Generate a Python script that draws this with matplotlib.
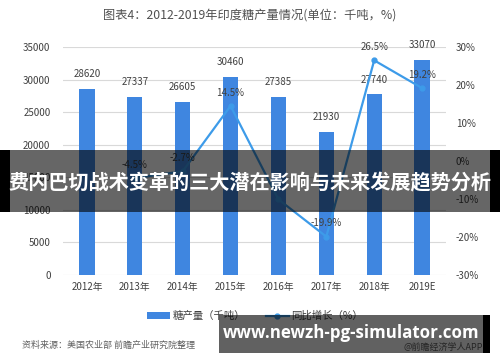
import matplotlib
matplotlib.use("Agg")
import matplotlib.pyplot as plt
from matplotlib.patches import Rectangle
from matplotlib.lines import Line2D
from matplotlib.patches import Patch

plt.rcParams['font.family'] = ['Noto Sans CJK SC', 'DejaVu Sans']

years = ["2012年", "2013年", "2014年", "2015年", "2016年", "2017年", "2018年", "2019E"]
production = [28620, 27337, 26605, 30460, 27385, 21930, 27740, 33070]
growth_years_idx = [1, 2, 3, 4, 5, 6, 7]
growth = [-4.5, -2.7, 14.5, -10.1, -19.9, 26.5, 19.2]
growth_labels = ["-4.5%", "-2.7%", "14.5%", "", "-19.9%", "26.5%", "19.2%"]

title = "图表4：2012-2019年印度糖产量情况(单位：千吨，%)"
banner = "费内巴切战术变革的三大潜在影响与未来发展趋势分析"
footer = "www.newzh-pg-simulator.com"

bar_color = "#3f86e0"
line_color = "#3d9be9"
txt = "#404040"

fig = plt.figure(figsize=(5, 3.62), dpi=100)
ax = fig.add_axes([0.126, 0.2403, 0.766, 0.6297])
x = list(range(len(years)))
ax.bar(x, production, width=0.32, color=bar_color, zorder=2)
ax.set_xlim(-0.5, len(years) - 0.5)
ax.set_ylim(0, 35000)
ax.set_yticks(range(0, 35001, 5000))
ax.set_xticks(x)
ax.set_xticklabels(years, fontsize=7, color=txt)
ax.tick_params(axis='y', length=0, pad=9, labelsize=7, labelcolor=txt)
ax.tick_params(axis='x', length=0, pad=5)
ax.grid(axis='y', color="#d9d9d9", linewidth=0.8, zorder=0)
for s in ax.spines.values():
    s.set_visible(False)
for xi, v in zip(x, production):
    ax.annotate(str(v), (xi, v), xytext=(0, 7), textcoords='offset points',
                ha='center', va='bottom', fontsize=7, color=txt)

ax2 = ax.twinx()
ax2.set_ylim(-30, 30)
ax2.set_yticks(range(-30, 31, 10))
ax2.set_yticklabels([f"{t}%" for t in range(-30, 31, 10)])
ax2.tick_params(axis='y', length=0, pad=7, labelsize=7, labelcolor=txt)
for s in ax2.spines.values():
    s.set_visible(False)
ax2.plot(growth_years_idx, growth, color=line_color, linewidth=1.6,
         marker='o', markersize=3.5, zorder=3)
for xi, v, lab in zip(growth_years_idx, growth, growth_labels):
    if lab:
        ax2.annotate(lab, (xi, v), xytext=(0, 6), textcoords='offset points',
                     ha='center', va='bottom', fontsize=7, color=txt)

fig.text(0.5, 1 - 15 / 362, title, ha='center', va='center', fontsize=8.8, color="#505050")

handles = [Patch(facecolor=bar_color, edgecolor='none'),
           Line2D([0], [0], color=line_color, linewidth=1.6, marker='o', markersize=3.5)]
fig.legend(handles, ["糖产量（千吨）", "同比增长（%）"], loc='center',
           bbox_to_anchor=(0.51, 1 - 316 / 362), ncol=2, frameon=False, fontsize=7.5,
           handlelength=2.2, handletextpad=0.2, columnspacing=2.0, labelcolor=txt)

fig.text(22 / 500, 1 - 345 / 362, "资料来源：美国农业部 前瞻产业研究院整理", ha='left', va='center',
         fontsize=6.5, color="#606060", style='italic')
fig.text(483 / 500, 1 - 347 / 362, "@前瞻经济学人APP", ha='right', va='center',
         fontsize=6.5, color="#606060")

# banner overlay
H = 362.0
def frect(x0, y0, x1, y1, **kw):
    fig.patches.append(Rectangle((x0 / 500, 1 - y1 / H), (x1 - x0) / 500, (y1 - y0) / H,
                                 transform=fig.transFigure, figure=fig, **kw))

frect(0, 150, 10, 212, facecolor='black', edgecolor='none', zorder=10)
frect(490, 150, 500, 212, facecolor='black', edgecolor='none', zorder=10)
frect(10, 150, 490, 212, facecolor='black', alpha=0.6, edgecolor='none', zorder=10)
fig.text(0.5, 1 - 183 / H, banner, ha='center', va='center', fontsize=14.5,
         color='white', fontweight='bold', zorder=11)

frect(219, 315, 483, 353, facecolor='black', alpha=0.62, edgecolor='none', zorder=10)
frect(483, 315, 490, 353, facecolor='black', edgecolor='none', zorder=10)
fig.text(351 / 500, 1 - 333 / H, footer, ha='center', va='center', fontsize=12.2,
         color='white', fontweight='bold', family=['Open Sans', 'DejaVu Sans'], zorder=11)

fig.savefig("out.png", dpi=100)
